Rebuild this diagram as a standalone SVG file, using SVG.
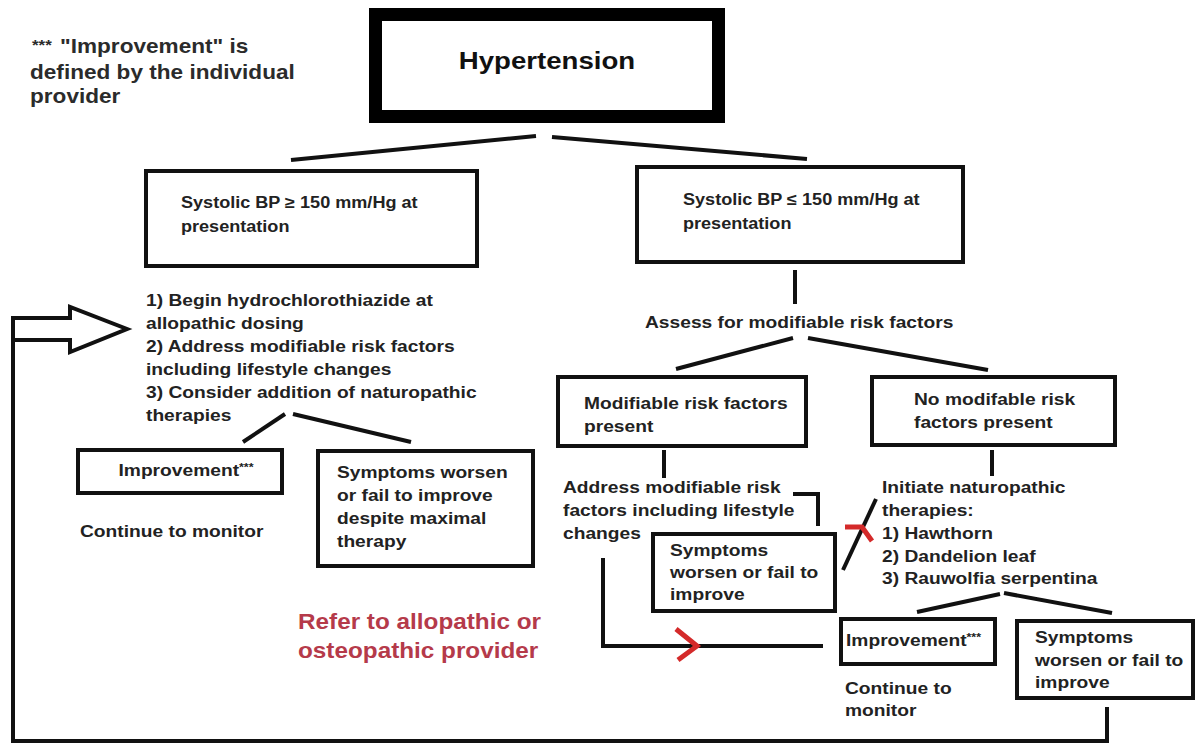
<svg xmlns="http://www.w3.org/2000/svg" width="1195" height="744" viewBox="0 0 1195 744">
<style>
text{font-family:"Liberation Sans",Arial,sans-serif;font-weight:bold;fill:#222}
.b{font-size:17px}
.bp{font-size:16px}
.note{font-size:20px;fill:#2b2b2b}
.title{font-size:24px;fill:#111}
.red{font-size:21.5px;fill:#b53a4a}
.box{fill:#fff;stroke:#111;stroke-width:4}
.ln{fill:none;stroke:#111;stroke-width:4;stroke-linejoin:miter}
.ra{fill:none;stroke:#d42a2a;stroke-width:5;stroke-linejoin:miter}
</style>
<rect width="1195" height="744" fill="#fff"/>

<g id="connectors">
<line class="ln" x1="291" y1="160" x2="536" y2="136"/>
<line class="ln" x1="552" y1="137" x2="807" y2="159"/>
<line class="ln" x1="795" y1="270" x2="795" y2="304"/>
<line class="ln" x1="793" y1="338" x2="676" y2="369"/>
<line class="ln" x1="808" y1="338" x2="988" y2="370"/>
<line class="ln" x1="664" y1="450" x2="664" y2="478"/>
<line class="ln" x1="992" y1="450" x2="992" y2="476"/>
<line class="ln" x1="285" y1="414" x2="243" y2="442"/>
<line class="ln" x1="293" y1="414" x2="411" y2="442"/>
<polyline class="ln" points="793,494 818,494 818,526"/>
<line class="ln" x1="876" y1="499" x2="843" y2="570"/>
<line class="ln" x1="1000" y1="594" x2="917" y2="612"/>
<line class="ln" x1="1004" y1="593" x2="1112" y2="613"/>
<polyline class="ln" points="603,558 603,646 823,646"/>
<path class="ln" d="M1107,707 V741 H13 V318 H70 V307 L127,329 L70,352 V340 H13"/>
<polyline class="ra" points="676,629 697,646 678,660"/>
<polyline class="ra" points="845,527 862,527 872,541"/>
</g>

<g id="note">
<text class="note" style="font-size:15px" transform="translate(32,50) scale(1.13,1)">***</text>
<text class="note" transform="translate(60,53) scale(1.13,1)">"Improvement" is</text>
<text class="note" transform="translate(30,79) scale(1.13,1)">defined by the individual</text>
<text class="note" transform="translate(30,103) scale(1.13,1)">provider</text>
</g>

<g id="hypertension">
<rect x="375.5" y="14.5" width="343" height="102" fill="#fff" stroke="#000" stroke-width="13"/>
<text class="title" text-anchor="middle" transform="translate(547,69) scale(1.15,1)">Hypertension</text>
</g>

<g id="bp-high">
<rect class="box" x="146" y="171" width="331" height="95"/>
<text class="bp" transform="translate(181,208) scale(1.13,1)">Systolic BP ≥ 150 mm/Hg at<tspan x="0" dy="24">presentation</tspan></text>
</g>

<g id="bp-low">
<rect class="box" x="637" y="167" width="326" height="95"/>
<text class="bp" transform="translate(683,205) scale(1.13,1)">Systolic BP ≤ 150 mm/Hg at<tspan x="0" dy="24">presentation</tspan></text>
</g>

<g id="high-treatment">
<text class="b" transform="translate(146,306) scale(1.13,1)">1) Begin hydrochlorothiazide at<tspan x="0" dy="23">allopathic dosing</tspan><tspan x="0" dy="23">2) Address modifiable risk factors</tspan><tspan x="0" dy="23">including lifestyle changes</tspan><tspan x="0" dy="23">3) Consider addition of naturopathic</tspan><tspan x="0" dy="23">therapies</tspan></text>
</g>

<g id="high-improvement">
<rect class="box" x="78" y="450" width="204" height="43"/>
<text class="b" text-anchor="middle" transform="translate(186,476) scale(1.13,1)">Improvement<tspan style="font-size:11px" dy="-5">***</tspan></text>
</g>

<g id="high-monitor">
<text class="b" transform="translate(80,537) scale(1.13,1)">Continue to monitor</text>
</g>

<g id="high-worsen">
<rect class="box" x="318" y="451" width="215" height="115"/>
<text class="b" transform="translate(337,478) scale(1.13,1)">Symptoms worsen<tspan x="0" dy="23">or fail to improve</tspan><tspan x="0" dy="23">despite maximal</tspan><tspan x="0" dy="23">therapy</tspan></text>
</g>

<g id="refer">
<text class="red" transform="translate(298,629) scale(1.13,1)">Refer to allopathic or<tspan x="0" dy="29">osteopathic provider</tspan></text>
</g>

<g id="assess">
<text class="b" transform="translate(645,328) scale(1.13,1)">Assess for modifiable risk factors</text>
</g>

<g id="modifiable">
<rect class="box" x="558" y="377" width="248" height="69"/>
<text class="b" transform="translate(584,409) scale(1.13,1)">Modifiable risk factors<tspan x="0" dy="23">present</tspan></text>
</g>

<g id="no-modifiable">
<rect class="box" x="872" y="377" width="243" height="68"/>
<text class="b" transform="translate(914,405) scale(1.13,1)">No modifable risk<tspan x="0" dy="23">factors present</tspan></text>
</g>

<g id="address">
<text class="b" transform="translate(563,493) scale(1.13,1)">Address modifiable risk<tspan x="0" dy="23">factors including lifestyle</tspan><tspan x="0" dy="23">changes</tspan></text>
</g>

<g id="mod-worsen">
<rect class="box" x="653" y="534" width="182" height="77"/>
<text class="b" transform="translate(670,556) scale(1.13,1)">Symptoms<tspan x="0" dy="22">worsen or fail to</tspan><tspan x="0" dy="22">improve</tspan></text>
</g>

<g id="naturopathic">
<text class="b" transform="translate(882,493) scale(1.13,1)">Initiate naturopathic<tspan x="0" dy="23">therapies:</tspan><tspan x="0" dy="23">1) Hawthorn</tspan><tspan x="0" dy="23">2) Dandelion leaf</tspan><tspan x="0" dy="22">3) Rauwolfia serpentina</tspan></text>
</g>

<g id="nat-improvement">
<rect class="box" x="841" y="619" width="154" height="45"/>
<text class="b" transform="translate(846,646) scale(1.13,1)">Improvement<tspan style="font-size:11px" dy="-5">***</tspan></text>
</g>

<g id="nat-monitor">
<text class="b" transform="translate(845,694) scale(1.13,1)">Continue to<tspan x="0" dy="22">monitor</tspan></text>
</g>

<g id="nat-worsen">
<rect class="box" x="1017" y="621" width="176" height="77"/>
<text class="b" transform="translate(1035,643) scale(1.13,1)">Symptoms<tspan x="0" dy="23">worsen or fail to</tspan><tspan x="0" dy="22">improve</tspan></text>
</g>
</svg>
